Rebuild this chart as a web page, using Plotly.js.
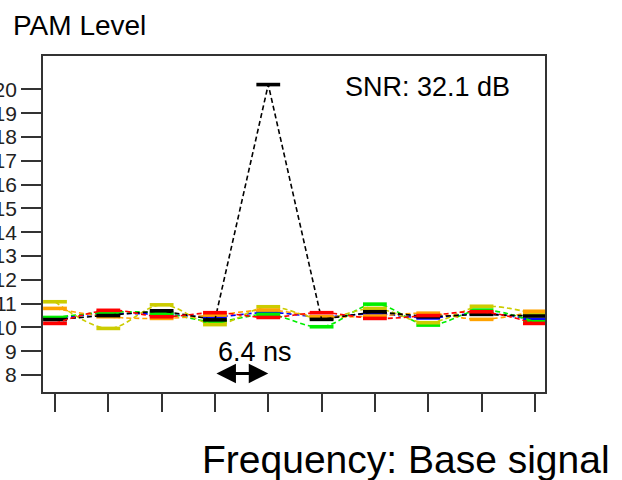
<!DOCTYPE html>
<html>
<head>
<meta charset="utf-8">
<script src="https://cdn.plot.ly/plotly-3.0.1.min.js"></script>
<style>
  html, body { margin: 0; padding: 0; background: #fff; }
  #chart { width: 622px; height: 480px; }
</style>
</head>
<body>
<div id="chart"></div>
<script>
// Sample positions (one per 6.4 ns symbol period)
const samples = [0, 1, 2, 3, 4, 5, 6, 7, 8, 9];

// PAM level read at each sample, one array per channel
const blueLevels   = [10.40, 10.58, 10.55, 10.45, 10.63, 10.45, 10.57, 10.40, 10.59, 10.32];
const greenLevels  = [10.42, 10.64, 10.60, 10.25, 10.55, 10.03, 10.98, 10.10, 10.73, 10.24];
const yellowLevels = [11.08,  9.96, 10.95, 10.12, 10.87, 10.38, 10.80, 10.20, 10.89, 10.57];
const orangeLevels = [10.80, 10.45, 10.38, 10.52, 10.73, 10.45, 10.48, 10.60, 10.34, 10.68];
const blackLevels  = [10.33, 10.50, 10.70, 10.32, 20.20, 10.34, 10.66, 10.45, 10.55, 10.48];
const redLevels    = [10.17, 10.72, 10.45, 10.62, 10.42, 10.62, 10.38, 10.50, 10.66, 10.17];

// Y axis tick values / labels
const levelTicks = [8, 9, 10, 11, 12, 13, 14, 15, 16, 17, 18, 19, 20];
const levelTickText = levelTicks.map(String);

// Text labels
const yLabel = 'PAM Level';
const xLabel = 'Frequency: Base signal';
const snrLabel = 'SNR: 32.1 dB';
const periodLabel = '6.4 ns';

const FONT = 'Liberation Sans, Arial, Helvetica, sans-serif';

function channel(levels, color, shape) {
  return {
    x: samples, y: levels, type: 'scatter', mode: 'lines+markers',
    line: { color: color, width: 1.6, dash: '5px,3px', shape: shape, smoothing: 1 },
    marker: { symbol: 'line-ew', size: 17, line: { color: color, width: 3.6 } },
    hoverinfo: 'x+y', showlegend: false
  };
}

const traces = [
  channel(blueLevels, '#0000ff', 'spline'),
  channel(greenLevels, '#00ee00', 'spline'),
  channel(yellowLevels, '#cccc00', 'spline'),
  channel(orangeLevels, '#ffa200', 'spline'),
  channel(blackLevels, '#000000', 'linear'),
  channel(redLevels, '#ff0000', 'spline')
];

const layout = {
  width: 622, height: 480,
  margin: { l: 43, r: 77, t: 56, b: 88 },
  paper_bgcolor: '#ffffff', plot_bgcolor: '#ffffff',
  font: { family: FONT, color: '#000' },
  xaxis: {
    range: [-0.225, 9.19], tickvals: samples, ticktext: samples.map(() => ''),
    showgrid: false, zeroline: false,
    showline: true, mirror: true, linecolor: '#333', linewidth: 2,
    ticks: 'outside', ticklen: 18, tickwidth: 2, tickcolor: '#333',
    automargin: false
  },
  yaxis: {
    range: [7.29, 21.4], tickvals: levelTicks, ticktext: levelTickText,
    showgrid: false, zeroline: false,
    showline: true, mirror: true, linecolor: '#333', linewidth: 2,
    ticks: 'outside', ticklen: 20, tickwidth: 2, tickcolor: '#333',
    tickfont: { family: FONT, size: 21, color: '#222' },
    automargin: false
  },
  annotations: [
    { text: yLabel, xref: 'paper', yref: 'paper', x: -0.064, y: 1.092,
      xanchor: 'left', yanchor: 'middle', showarrow: false,
      font: { family: FONT, size: 28, color: '#000' } },
    { text: snrLabel, xref: 'paper', yref: 'paper', x: 0.598, y: 0.909,
      xanchor: 'left', yanchor: 'middle', showarrow: false,
      font: { family: FONT, size: 27, color: '#000' } },
    { text: periodLabel, xref: 'paper', yref: 'paper', x: 0.344, y: 0.119,
      xanchor: 'left', yanchor: 'middle', showarrow: false,
      font: { family: FONT, size: 27, color: '#000' } },
    { text: xLabel, xref: 'paper', yref: 'paper', x: 0.312, y: -0.202,
      xanchor: 'left', yanchor: 'middle', showarrow: false,
      font: { family: FONT, size: 39, color: '#000' } },
    // double-headed arrow spanning one symbol period
    { text: '', x: samples[4], y: 8.07, ax: samples[3], ay: 8.07,
      xref: 'x', yref: 'y', axref: 'x', ayref: 'y',
      showarrow: true, arrowside: 'end+start', arrowhead: 2,
      arrowwidth: 3, arrowsize: 1.3, arrowcolor: '#000', standoff: 0, startstandoff: 0 }
  ]
};

Plotly.newPlot('chart', traces, layout, { staticPlot: true, displayModeBar: false });
</script>
</body>
</html>
